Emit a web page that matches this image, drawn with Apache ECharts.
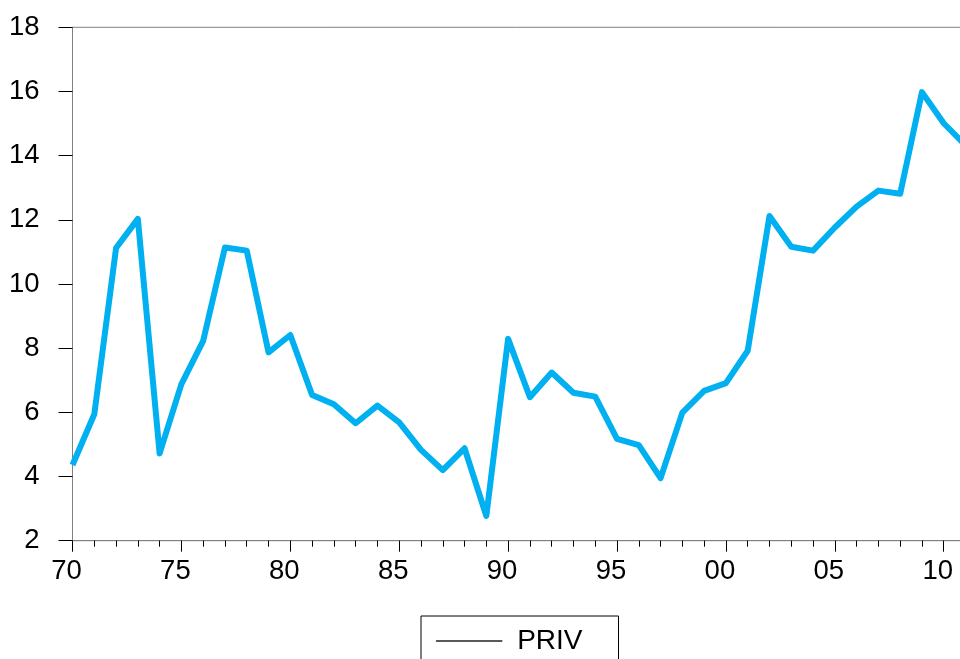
<!DOCTYPE html>
<html>
<head>
<meta charset="utf-8">
<script src="https://cdn.jsdelivr.net/npm/echarts@6/dist/echarts.min.js"></script>
<style>
  html, body { margin: 0; padding: 0; background: #ffffff; }
  #chart { width: 960px; height: 659px; }
</style>
</head>
<body>
<div id="chart"></div>
<script>
const years = [1970,1971,1972,1973,1974,1975,1976,1977,1978,1979,
               1980,1981,1982,1983,1984,1985,1986,1987,1988,1989,
               1990,1991,1992,1993,1994,1995,1996,1997,1998,1999,
               2000,2001,2002,2003,2004,2005,2006,2007,2008,2009,
               2010,2011];
const priv = [4.36,5.94,11.12,12.03,4.72,6.88,8.23,11.14,11.04,7.87,
              8.41,6.54,6.25,5.66,6.21,5.69,4.83,4.20,4.88,2.77,
              8.29,6.47,7.24,6.61,6.49,5.17,4.98,3.95,5.99,6.67,
              6.91,7.92,12.12,11.16,11.04,11.76,12.41,12.91,12.81,15.98,
              15.01,14.32];
const seriesName = 'PRIV';
const yTicks = [2,4,6,8,10,12,14,16,18];

const font = "'Liberation Sans', Arial, sans-serif";
const chart = echarts.init(document.getElementById('chart'), null, { renderer: 'canvas' });
chart.setOption({
  animation: false,
  backgroundColor: '#ffffff',
  grid: {
    left: 72.5, top: 27.3, width: 893, height: 513.4,
    outerBoundsMode: 'none', containLabel: false,
    show: true, borderColor: '#808080', borderWidth: 1, backgroundColor: 'transparent'
  },
  legend: {
    data: [seriesName],
    left: 421, top: 616,
    icon: 'rect',
    itemWidth: 66, itemHeight: 1,
    padding: [11, 36, 30, 15],
    borderColor: '#000000', borderWidth: 1, borderRadius: 0,
    itemStyle: { color: '#000000', borderColor: '#000000', borderWidth: 0.3 },
    textStyle: { fontFamily: font, fontSize: 28, color: '#000000', padding: [0, 0, 0, 10] }
  },
  xAxis: {
    type: 'value',
    min: years[0], max: years[years.length - 1], interval: 5,
    axisLine: { show: true, lineStyle: { color: '#808080', width: 1 } },
    axisTick: { show: true, length: 11, lineStyle: { color: '#000000', width: 1 } },
    minorTick: { show: true, splitNumber: 5, length: 6, lineStyle: { color: '#000000', width: 1 } },
    splitLine: { show: false },
    axisLabel: {
      fontFamily: font, fontSize: 27.5, color: '#000000', margin: 17,
      padding: [0, 12, 0, 0], showMaxLabel: false,
      formatter: v => String(v % 100).padStart(2, '0')
    }
  },
  yAxis: {
    type: 'value',
    min: yTicks[0], max: yTicks[yTicks.length - 1], interval: 2,
    axisLine: { show: true, lineStyle: { color: '#808080', width: 1 } },
    axisTick: { show: true, length: 14, lineStyle: { color: '#000000', width: 1 } },
    splitLine: { show: false },
    axisLabel: { fontFamily: font, fontSize: 27.5, color: '#000000', margin: 33 }
  },
  series: [{
    name: seriesName,
    type: 'line',
    data: years.map((y, i) => [y, priv[i]]),
    symbol: 'none',
    lineStyle: { color: '#00B0F0', width: 6, join: 'round' },
    itemStyle: { color: '#00B0F0' }
  }]
});
</script>
</body>
</html>
